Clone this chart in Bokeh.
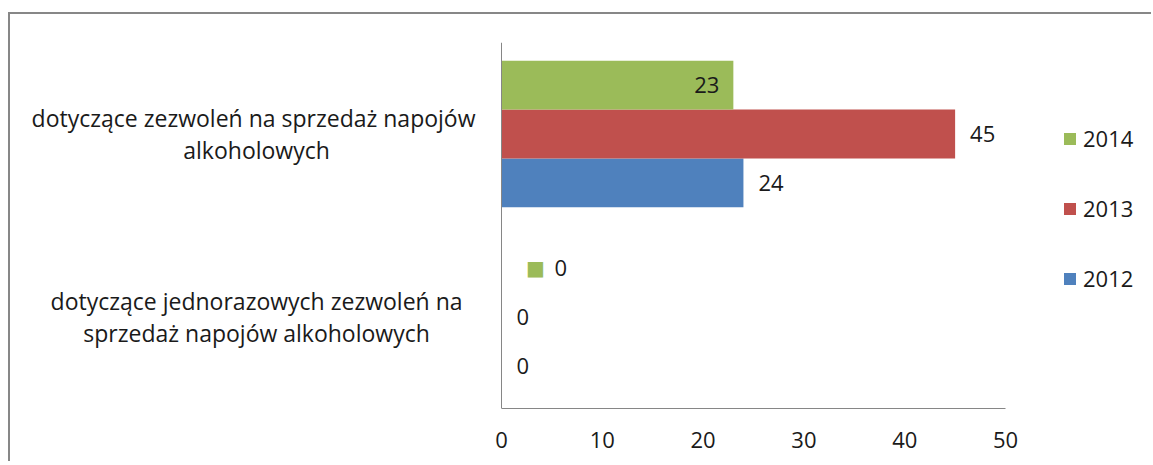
from bokeh.plotting import figure
from bokeh.models import (Range1d, FactorRange, ColumnDataSource, FixedTicker,
                          Span, Legend, LegendItem)
from bokeh.transform import dodge
from bokeh.core.properties import value
from bokeh.embed import file_html
from bokeh.resources import INLINE

# ---- data ----
categories = ["dotyczące zezwoleń na sprzedaż napojów alkoholowych",
              "dotyczące jednorazowych zezwoleń na sprzedaż napojów alkoholowych"]
category_labels = ["dotyczące zezwoleń  na sprzedaż napojów\nalkoholowych",
                   "dotyczące jednorazowych zezwoleń na\nsprzedaż napojów alkoholowych"]
years = ["2012", "2013", "2014"]
v2012 = [24, 0]
v2013 = [45, 0]
v2014 = [23, 0]
x_ticks = [0, 10, 20, 30, 40, 50]

# ---- styles ----
COLORS = {"2012": "#4F81BD", "2013": "#C0504D", "2014": "#9BBB59"}
FONT = "Open Sans"
TXT = "#1a1a1a"
FS = "22px"
BAR_H = 0.8 / 3
OFFSETS = {"2012": -BAR_H, "2013": 0.0, "2014": BAR_H}
series = {"2012": v2012, "2013": v2013, "2014": v2014}
BORDER = "2px solid #878787"

p = figure(width=1143, height=449, output_backend="svg", toolbar_location=None,
           x_range=Range1d(-48.71, 64.68),
           y_range=FactorRange(factors=[categories[1], categories[0]]),
           min_border_left=0, min_border_right=0, min_border_top=28, min_border_bottom=55,
           styles={"position": "absolute", "left": "8px", "top": "12px",
                   "border-left": BORDER, "border-top": BORDER})
p.outline_line_color = None
p.background_fill_color = "white"
p.border_fill_color = "white"
p.xgrid.visible = False
p.ygrid.visible = False
p.yaxis.visible = False

ax = p.xaxis[0]
ax.bounds = (0, 50)
ax.ticker = FixedTicker(ticks=x_ticks)
ax.axis_line_color = "#868686"
ax.axis_line_width = 1
ax.major_tick_line_color = None
ax.minor_tick_line_color = None
ax.major_label_standoff = 17
ax.major_label_text_font = FONT
ax.major_label_text_font_size = FS
ax.major_label_text_color = TXT

# y axis line at x = 0
p.add_layout(Span(location=0, dimension="height", line_color="#868686", line_width=1))

renderers = {}
for yr in years:
    vals = series[yr]
    src = ColumnDataSource(dict(y=categories, v=vals, t=[str(x) for x in vals]))
    r = p.hbar(y=dodge("y", OFFSETS[yr], range=p.y_range), left=0, right="v",
               height=BAR_H, source=src, fill_color=COLORS[yr], line_color=None)
    renderers[yr] = r
    if yr == "2014":
        ins = ColumnDataSource(dict(y=[c for c, x in zip(categories, vals) if x > 0],
                                    v=[x for x in vals if x > 0],
                                    t=[str(x) for x in vals if x > 0]))
        p.text(x="v", y=dodge("y", OFFSETS[yr], range=p.y_range), text="t", source=ins,
               text_align="right", text_baseline="middle", x_offset=-14,
               text_font=value(FONT), text_font_size=FS, text_color=TXT)
        zer = ColumnDataSource(dict(y=[c for c, x in zip(categories, vals) if x == 0],
                                    v=[x for x in vals if x == 0],
                                    t=[str(x) for x in vals if x == 0],
                                    k=["\u25A0" for x in vals if x == 0]))
        p.text(x="v", y=dodge("y", OFFSETS[yr], range=p.y_range), text="k", source=zer,
               text_align="center", text_baseline="middle", x_offset=34,
               text_font=value("DejaVu Sans"), text_font_size="20px", text_color=COLORS[yr])
        p.text(x="v", y=dodge("y", OFFSETS[yr], range=p.y_range), text="t", source=zer,
               text_align="left", text_baseline="middle", x_offset=53,
               text_font=value(FONT), text_font_size=FS, text_color=TXT)
    else:
        p.text(x="v", y=dodge("y", OFFSETS[yr], range=p.y_range), text="t", source=src,
               text_align="left", text_baseline="middle", x_offset=15,
               text_font=value(FONT), text_font_size=FS, text_color=TXT)

# category labels
csrc = ColumnDataSource(dict(y=categories, t=category_labels))
p.text(x=-24.3, y="y", text="t", source=csrc, text_align="center", text_baseline="middle",
       text_line_height=1.0, text_font=value(FONT), text_font_size="23px", text_color=TXT)

legend = Legend(items=[LegendItem(label=yr, renderers=[renderers[yr]]) for yr in ["2014", "2013", "2012"]],
                location=(1052, 115), orientation="vertical",
                glyph_width=15, glyph_height=15, label_height=15, label_standoff=6,
                spacing=40, padding=0, margin=0,
                border_line_color=None, background_fill_alpha=0,
                label_text_font=FONT, label_text_font_size=FS, label_text_color=TXT)
p.add_layout(legend)

open("out.html", "w").write(file_html(p, INLINE))
